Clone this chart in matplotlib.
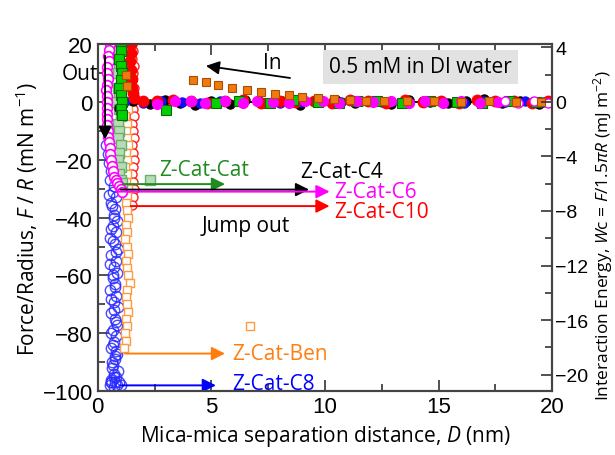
import numpy as np
import matplotlib
matplotlib.use("Agg")
import matplotlib.pyplot as plt

plt.rcParams['font.family'] = ['Open Sans', 'DejaVu Sans']
plt.rcParams['mathtext.fontset'] = 'custom'
plt.rcParams['mathtext.rm'] = 'Open Sans'
plt.rcParams['mathtext.it'] = 'Open Sans:italic'

# ---- approach (filled markers along baseline) ----
black_in_x = [0.95, 1.55, 2.3, 2.95, 3.6, 4.3, 5.0, 5.8, 6.5, 7.3, 8.1, 8.9, 9.7, 10.5, 11.3, 12.1, 12.9, 13.7, 14.6, 15.4, 16.2, 17.0, 17.8, 18.6, 19.4]
black_in_f = [-2.0, 0.5, -0.8, 0.6, -0.5, -1.2, 0.4, -0.6, 0.8, -0.3, 0.5, -0.9, 0.2, 0.7, -0.4, 0.3, -0.7, 0.6, 0.1, -0.5, 0.4, 0.9, -0.3, 0.2, -0.6]

red_in_x = [1.45, 1.45, 1.4, 1.45, 1.5, 1.5, 1.55, 1.6, 2.0, 2.6, 3.3, 4.1, 4.8, 5.6, 6.4, 7.2, 8.0, 8.7, 9.5, 10.3, 11.1, 11.9, 12.7, 13.5, 14.3, 15.1, 15.9, 16.7, 17.5, 18.3, 19.1, 19.8]
red_in_f = [20, 17, 14, 11, 8, 5, 3, 1.5, 0.5, 0.4, 0.6, 0.2, -0.4, 0.3, 0.8, -0.2, 0.5, 0.1, 0.4, -0.3, 0.6, 0.2, -0.5, 0.7, 0.1, 0.4, -0.2, 0.6, 0.3, 0.2, -0.4, 0.3]

blue_in_x = [1.2, 2.0, 2.8, 3.7, 4.5, 5.4, 6.3, 7.1, 8.0, 8.9, 9.8, 10.7, 11.6, 12.5, 13.4, 14.3, 15.2, 16.1, 17.0, 17.9, 18.8, 19.6]
blue_in_f = [0.2, -0.3, 0.4, 0.1, -0.2, 0.3, 0.0, 0.2, -0.4, 0.1, 0.3, -0.1, 0.2, 0.0, -0.3, 0.2, 0.1, -0.2, 0.3, 0.0, 0.2, -0.1]

green_in_x = [1.0, 1.0, 0.95, 1.0, 1.05, 1.0, 0.95, 1.0, 1.05, 1.0, 1.05, 3.0, 5.2, 6.2, 7.6, 8.6, 9.7, 10.6, 11.4, 12.3, 13.4, 14.6, 15.8, 16.9, 18.1, 19.3]
green_in_f = [20, 17.5, 15, 12.5, 10, 7.5, 5, 2.5, 0, -2.5, -4.5, -2.8, -0.5, 0.3, -0.4, 0.6, 0.0, -0.5, 0.4, 0.2, -0.3, 0.5, 0.1, -0.2, 0.4, 0.0]

magenta_in_x = [2.6, 3.4, 4.1, 4.7, 5.6, 6.4, 7.0, 7.7, 8.4, 9.1, 9.9, 10.6, 11.4, 12.1, 12.9, 13.7, 14.4, 15.2, 16.0, 16.8, 17.6]
magenta_in_f = [-0.8, 0.4, 0.5, -0.3, 0.3, -0.2, 0.4, 0.1, -0.3, 0.5, 0.2, -0.4, 0.3, 0.0, 0.4, -0.3, 0.2, -0.5, 0.3, -0.2, 0.1]
magenta_open_x = [17.9, 18.5, 19.2, 19.8]
magenta_open_f = [0.5, -0.4, 0.3, -0.2]

orange_in_x = [1.25, 1.3, 4.2, 4.75, 5.3, 5.9, 6.55, 7.2, 7.8, 8.4, 9.0, 9.7, 10.4, 11.1, 11.8, 12.6, 13.6, 14.8, 16.0, 17.2, 18.4, 19.5]
orange_in_f = [9.5, 5.5, 7.6, 6.8, 5.9, 4.8, 4.2, 3.5, 2.8, 2.4, 1.7, 1.3, 0.9, 0.6, 0.5, 0.4, 0.2, 0.3, 0.1, 0.2, 0.0, 0.1]

# ---- retraction (open markers) ----
magenta_out_x = [0.55, 0.5, 0.45, 0.48, 0.42, 0.40, 0.43, 0.40, 0.38, 0.41, 0.40, 0.42, 0.39, 0.41, 0.40, 0.43, 0.45, 0.48, 0.52, 0.55, 0.58, 0.62, 0.66, 0.72, 0.78, 0.84, 0.92, 1.0, 1.05]
magenta_out_f = [20, 18, 16, 14, 12, 10, 8, 6, 4, 2, 0, -2, -4, -6, -8, -10, -12, -14, -16, -18, -20, -22, -24, -26, -27, -28, -29, -30, -31]

blue_out_x = [0.35, 0.45, 0.5, 0.6, 0.55, 0.7, 0.65, 0.8, 0.6, 0.75, 0.7, 0.85, 0.65, 0.8, 0.55, 0.75, 0.9, 0.6, 0.8, 0.7, 0.85, 0.65, 0.75, 0.55, 0.8, 0.7, 0.9, 0.6, 0.75, 0.85, 0.65, 0.8, 0.7, 0.6, 0.85, 0.75, 0.65, 0.9, 0.7, 0.8, 0.6, 0.75, 0.95, 0.55, 0.85, 0.7, 1.0, 0.6,
              0.5, 0.62, 0.72, 0.58, 0.68, 0.78, 0.52, 0.66, 0.74, 0.6, 0.7, 0.82, 0.56, 0.68, 0.76, 0.62, 0.72, 0.64, 0.8, 0.58]
blue_out_f = [-15, -18, -21, -24, -27, -29, -31, -33, -35, -37, -39, -41, -43, -45, -47, -49, -51, -53, -55, -57, -59, -61, -63, -65, -67, -69, -71, -73, -75, -77, -79, -81, -83, -85, -87, -89, -91, -93, -94, -95, -96, -97, -97, -98, -98, -98.5, -98, -97,
              -32, -36, -40, -44, -48, -52, -56, -60, -64, -68, -72, -76, -80, -84, -88, -92, -95, -90, -86, -97]

orange_out_x = [1.3, 1.25, 1.3, 1.35, 1.25, 1.3, 1.2, 1.3, 1.25, 1.35, 1.2, 1.3, 1.25, 1.3, 1.35, 1.25, 1.3, 1.2, 1.3, 1.25, 1.35, 1.3, 1.25, 1.3, 1.35, 1.25, 1.3, 1.2, 1.3, 1.35, 1.25, 1.3, 1.35, 1.4, 1.3, 1.25, 1.3, 1.35, 1.25, 1.3, 1.2, 1.25, 1.15, 6.7]
orange_out_f = [20, 17.5, 15, 12.5, 10, 7.5, 5, 2.5, 0, -2.5, -5, -7.5, -10, -12.5, -15, -17.5, -20, -22.5, -25, -27.5, -30, -32.5, -35, -37.5, -40, -42.5, -45, -47.5, -50, -52.5, -55, -57.5, -60, -62.5, -65, -67.5, -70, -72.5, -75, -77.5, -80, -82.5, -85, -77.5]

green_out_x = [0.9, 0.95, 0.85, 0.95, 0.9, 1.0, 0.9, 0.95, 0.85, 0.95, 1.0, 0.9, 0.95, 0.9, 1.0, 0.95, 0.9, 1.0, 0.95, 1.0, 1.05, 2.3]
green_out_f = [20, 17.5, 15, 12.5, 10, 7.5, 5, 2.5, 0, -2.5, -5, -7.5, -10, -12.5, -15, -17.5, -20, -22.5, -25, -27, -28, -27]

red_out_x = [1.5, 1.55, 1.5, 1.6, 1.55, 1.5, 1.6, 1.55, 1.5, 1.55, 1.6, 1.5, 1.55, 1.6, 1.5, 1.55, 1.6, 1.55, 1.5, 1.55, 1.6, 1.55, 1.5]
red_out_f = [20, 17.5, 15, 12.5, 10, 7.5, 5, 2.5, 0, -2.5, -5, -7.5, -10, -12.5, -15, -17.5, -20, -22.5, -25, -27.5, -30, -33, -35.5]

black_out_x = [1.05, 1.0, 1.05, 1.0, 1.05, 1.0, 1.05, 1.0, 1.05, 1.0, 1.05, 1.0]
black_out_f = [20, 15, 10, 5, 0, -5, -10, -15, -20, -25, -28, -30]

# jump-out arrows: (label, colour, F level, x start, x end, label x, label F)
jumps = [
    ("Z-Cat-Cat", "#1e8c1e", -28.4, 1.1, 5.6, 2.7, -23.2),
    ("Z-Cat-C4", "black", -30.3, 1.0, 9.3, 8.9, -23.9),
    ("Z-Cat-C6", "#ff00ff", -31.0, 0.9, 10.2, 10.4, -31.0),
    ("Z-Cat-C10", "#ff0000", -36.0, 1.45, 10.2, 10.4, -38.0),
    ("Z-Cat-Ben", "#ff7f0e", -87.0, 1.2, 5.6, 5.9, -87.0),
    ("Z-Cat-C8", "#0000ff", -98.0, 1.0, 5.2, 5.9, -97.3),
]

fig, ax = plt.subplots(figsize=(6.15, 4.56), dpi=100)
fig.subplots_adjust(left=0.159, right=0.898, bottom=0.140, top=0.901)

ax.plot([0.5, 20], [0, 0], color="black", lw=1.3, zorder=1)

ms = 6.5
ax.plot(black_out_x, black_out_f, 'o', ms=ms, mfc='white', mec='black', mew=1, zorder=2)
ax.plot(red_out_x, red_out_f, 'o', ms=ms, mfc='white', mec='#ff2020', mew=1, zorder=2)
ax.plot(blue_out_x, blue_out_f, 'o', ms=ms + 1, mfc='none', mec='#2a2aff', mew=1, alpha=0.85, zorder=3)
ax.plot(orange_out_x, orange_out_f, 's', ms=5.5, mfc='white', mec='#ff9a40', mew=1, zorder=3)
ax.plot(green_out_x, green_out_f, 's', ms=ms, mfc='#b5dcb5', mec='#6ab06a', mew=1, zorder=3)
ax.plot(magenta_out_x, magenta_out_f, 'o', ms=ms + 0.5, mfc='white', mec='#ff00ff', mew=1.2, zorder=4)

ax.plot(black_in_x, black_in_f, 'o', ms=ms, color='black', zorder=5)
ax.plot(blue_in_x, blue_in_f, 'o', ms=ms, color='#1010ff', zorder=5)
ax.plot(red_in_x, red_in_f, 'o', ms=ms + 1, color='#ff0000', zorder=5)
ax.plot(green_in_x, green_in_f, 's', ms=ms, mfc='#00d000', mec='#0a6a0a', mew=0.8, zorder=6)
ax.plot(magenta_in_x, magenta_in_f, 'o', ms=ms + 0.5, color='#ff00ff', zorder=6)
ax.plot(magenta_open_x, magenta_open_f, 'o', ms=ms, mfc='white', mec='#ff00ff', mew=1, zorder=6)
ax.plot(orange_in_x, orange_in_f, 's', ms=6, mfc='#f07a10', mec='#a85000', mew=0.8, zorder=7)

for label, col, f, x0, x1, lx, lf in jumps:
    ax.annotate("", xy=(x1, f), xytext=(x0, f),
                arrowprops=dict(arrowstyle='-|>', color=col, lw=1.4, mutation_scale=20, shrinkA=0, shrinkB=0),
                zorder=8)
    ax.text(lx, lf, label, color=col, fontsize=15, ha='left', va='center', zorder=9)

ax.text(6.5, -42.7, "Jump out", fontsize=15, ha='center', va='center')
ax.text(-0.8, 9.7, "Out", fontsize=15, ha='center', va='center')
ax.annotate("", xy=(0.32, -13), xytext=(0.32, 16),
            arrowprops=dict(arrowstyle='-|>', color='black', lw=1.3, mutation_scale=20, shrinkA=0, shrinkB=0),
            zorder=10)
ax.text(7.7, 13.8, "In", fontsize=15, ha='center', va='center')
ax.annotate("", xy=(4.76, 12.5), xytext=(8.46, 8.3),
            arrowprops=dict(arrowstyle='-|>', color='black', lw=1.3, mutation_scale=20, shrinkA=0, shrinkB=0))
ax.text(14.2, 12.1, "0.5 mM in DI water", fontsize=15, ha='center', va='center',
        bbox=dict(boxstyle='square,pad=0.3', fc='#e2e2e2', ec='none'))

ax.set_xlim(0, 20)
ax.set_ylim(-100, 20)
ax.set_xticks([0, 5, 10, 15, 20])
ax.set_xticks(np.arange(0, 20.1, 2.5), minor=True)
ax.set_yticks(np.arange(-100, 21, 20))
ax.set_yticks(np.arange(-100, 21, 10), minor=True)
ax.tick_params(which='both', direction='in', top=True, labelsize=16, width=1.2, colors='#333333', labelcolor='black')
ax.tick_params(which='major', length=8)
ax.tick_params(which='minor', length=5)
for lab in ax.get_xticklabels() + ax.get_yticklabels():
    lab.set_fontfamily('Liberation Sans')
for sp in ax.spines.values():
    sp.set_linewidth(1.5)
    sp.set_color('#444444')

ax.set_xlabel("Mica-mica separation distance, $D$ (nm)", fontsize=15, labelpad=4)
ax.set_ylabel("Force/Radius, $F$ / $R$ (mN m$^{-1}$)", fontsize=15, labelpad=2)

ax2 = ax.twinx()
k = 1.5 * np.pi
ax2.set_ylim(-100 / k, 20 / k)
ax2.set_yticks(np.arange(-20, 5, 4))
ax2.set_yticks(np.arange(-20, 5, 2), minor=True)
ax2.tick_params(which='both', direction='in', labelsize=14, width=1.2, colors='#333333', labelcolor='black', pad=2)
ax2.tick_params(which='major', length=8)
ax2.tick_params(which='minor', length=5)
for lab in ax2.get_yticklabels():
    lab.set_fontfamily('Liberation Sans')
for sp in ax2.spines.values():
    sp.set_linewidth(1.5)
    sp.set_color('#444444')
ax2.set_ylabel("Interaction Energy, $W$c = $F$/1.5$\\pi R$ (mJ m$^{-2}$)", fontsize=12.5,
               ha='center', va='center', rotation=90, rotation_mode='default')
ax2.yaxis.set_label_coords(1.112, 0.45)

fig.savefig("out.png", dpi=100)
